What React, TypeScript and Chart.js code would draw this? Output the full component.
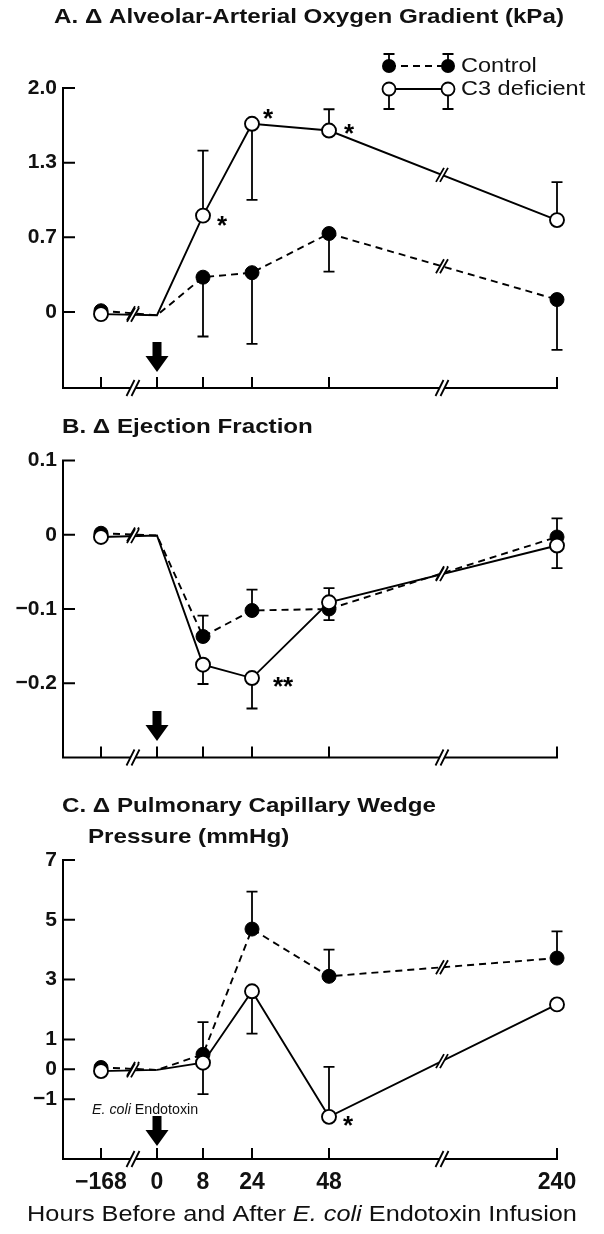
import React, { useEffect, useRef } from "react";
import { Chart, registerables } from "chart.js";

Chart.register(...registerables);

// ---------- data ----------
const HOURS = [-168, 0, 8, 24, 48, 240];
const HOUR_LABELS = ["\u2212168", "0", "8", "24", "48", "240"];

// Panel A: Δ Alveolar-arterial oxygen gradient (kPa)
const A_CONTROL = [0.01, -0.03, 0.31, 0.35, 0.7, 0.11];
const A_CONTROL_ERR = [null, null, -0.22, -0.285, 0.36, -0.34];
const A_C3 = [-0.02, -0.03, 0.86, 1.68, 1.62, 0.82];
const A_C3_ERR = [null, null, 1.44, 1.0, 1.81, 1.16];
const A_TICKS = [0, 2 / 3, 4 / 3, 2];
const A_TICK_LABELS = ["0", "0.7", "1.3", "2.0"];

// Panel B: Δ Ejection fraction
const B_CONTROL = [0.002, -0.001, -0.137, -0.102, -0.1, -0.003];
const B_CONTROL_ERR = [null, null, -0.109, -0.074, -0.115, 0.022];
const B_C3 = [-0.003, -0.001, -0.175, -0.193, -0.091, -0.0145];
const B_C3_ERR = [null, null, -0.201, -0.234, -0.072, -0.045];
const B_TICKS = [0.1, 0, -0.1, -0.2];
const B_TICK_LABELS = ["0.1", "0", "\u22120.1", "\u22120.2"];

// Panel C: Δ Pulmonary capillary wedge pressure (mmHg)
const C_CONTROL = [0.06, -0.02, 0.5, 4.69, 3.11, 3.72];
const C_CONTROL_ERR = [null, null, 1.58, 5.94, 4.0, 4.61];
const C_C3 = [-0.06, -0.02, 0.22, 2.61, -1.59, 2.17];
const C_C3_ERR = [null, null, -0.83, 1.19, 0.08, null];
const C_TICKS = [7, 5, 3, 1, 0, -1];
const C_TICK_LABELS = ["7", "5", "3", "1", "0", "\u22121"];

// ---------- layout (axis geometry, not data) ----------
const AXIS_LEFT = 63;
const AXIS_RIGHT = 558;
const HOUR_SLOT = [38, 94, 140, 189, 266, 494]; // broken time axis: offset of each hour tick from the y-axis
const X_MAX = 495;
const BREAKS = [70, 379];
const FONT = "'Liberation Sans', Arial, Helvetica, sans-serif";

type Star = { series: "c3" | "control"; index: number; text: string; dx: number; dy: number };
type Panel = {
  top: number;
  height: number;
  areaTop: number;
  areaBottom: number;
  yMin: number;
  yMax: number;
  yTicks: number[];
  yLabels: string[];
  control: number[];
  controlErr: (number | null)[];
  c3: number[];
  c3Err: (number | null)[];
  stars: Star[];
  arrowTip: number;
  showX: boolean;
  kind: "A" | "B" | "C";
};

const PANELS: Panel[] = [
  {
    kind: "A", top: 0, height: 400, areaTop: 88, areaBottom: 388,
    yMin: -0.68, yMax: 2, yTicks: A_TICKS, yLabels: A_TICK_LABELS,
    control: A_CONTROL, controlErr: A_CONTROL_ERR, c3: A_C3, c3Err: A_C3_ERR,
    stars: [
      { series: "c3", index: 2, text: "*", dx: 19, dy: 5 },
      { series: "c3", index: 3, text: "*", dx: 16, dy: -10 },
      { series: "c3", index: 4, text: "*", dx: 20, dy: -2 },
    ],
    arrowTip: 372, showX: false,
  },
  {
    kind: "B", top: 400, height: 380, areaTop: 460.5, areaBottom: 757.5,
    yMin: -0.3, yMax: 0.1, yTicks: B_TICKS, yLabels: B_TICK_LABELS,
    control: B_CONTROL, controlErr: B_CONTROL_ERR, c3: B_C3, c3Err: B_C3_ERR,
    stars: [{ series: "c3", index: 3, text: "**", dx: 31, dy: 4 }],
    arrowTip: 741, showX: false,
  },
  {
    kind: "C", top: 780, height: 454, areaTop: 860, areaBottom: 1159,
    yMin: -3, yMax: 7, yTicks: C_TICKS, yLabels: C_TICK_LABELS,
    control: C_CONTROL, controlErr: C_CONTROL_ERR, c3: C_C3, c3Err: C_C3_ERR,
    stars: [{ series: "c3", index: 4, text: "*", dx: 19, dy: 4 }],
    arrowTip: 1146, showX: true,
  },
];

function drawBreak(ctx: CanvasRenderingContext2D, x: number, y: number, h = 8, w = 4, gap = 5) {
  ctx.save();
  ctx.fillStyle = "#fff";
  ctx.beginPath();
  ctx.moveTo(x - gap / 2 - w, y + h);
  ctx.lineTo(x - gap / 2 + w, y - h);
  ctx.lineTo(x + gap / 2 + w, y - h);
  ctx.lineTo(x + gap / 2 - w, y + h);
  ctx.closePath();
  ctx.fill();
  ctx.strokeStyle = "#000";
  ctx.lineWidth = 1.8;
  ctx.setLineDash([]);
  ctx.beginPath();
  ctx.moveTo(x - gap / 2 - w, y + h);
  ctx.lineTo(x - gap / 2 + w, y - h);
  ctx.moveTo(x + gap / 2 - w, y + h);
  ctx.lineTo(x + gap / 2 + w, y - h);
  ctx.stroke();
  ctx.restore();
}

function drawArrow(ctx: CanvasRenderingContext2D, x: number, tip: number) {
  const len = 30, headH = 16, headW = 23, shaft = 9;
  ctx.save();
  ctx.fillStyle = "#000";
  ctx.beginPath();
  ctx.moveTo(x - shaft / 2, tip - len);
  ctx.lineTo(x + shaft / 2, tip - len);
  ctx.lineTo(x + shaft / 2, tip - headH);
  ctx.lineTo(x + headW / 2, tip - headH);
  ctx.lineTo(x, tip);
  ctx.lineTo(x - headW / 2, tip - headH);
  ctx.lineTo(x - shaft / 2, tip - headH);
  ctx.closePath();
  ctx.fill();
  ctx.restore();
}

// draws text runs (mixed italic) with an optional horizontal stretch
function drawRuns(
  ctx: CanvasRenderingContext2D,
  parts: { t: string; italic?: boolean; bold?: boolean }[],
  size: number,
  x: number,
  y: number,
  align: "left" | "center",
  sx = 1
) {
  const fonts = parts.map((p) => `${p.italic ? "italic " : ""}${p.bold ? "bold " : ""}${size}px ${FONT}`);
  let total = 0;
  const widths = parts.map((p, i) => {
    ctx.font = fonts[i];
    const w = ctx.measureText(p.t).width;
    total += w;
    return w;
  });
  let cx = align === "center" ? -total / 2 : 0;
  ctx.save();
  ctx.translate(x, y);
  ctx.scale(sx, 1);
  ctx.textAlign = "left";
  ctx.textBaseline = "middle";
  ctx.fillStyle = "#111";
  parts.forEach((p, i) => {
    ctx.font = fonts[i];
    ctx.fillText(p.t, cx, 0);
    cx += widths[i];
  });
  ctx.restore();
}

function makePlugin(p: Panel) {
  const off = p.top;
  return {
    id: "panelDecor" + p.kind,
    beforeDatasetsDraw(chart: any) {
      const ctx: CanvasRenderingContext2D = chart.ctx;
      const xs = chart.scales.x;
      const ys = chart.scales.y;
      const area = chart.chartArea;
      ctx.save();
      ctx.strokeStyle = "#000";
      ctx.lineWidth = 2;
      ctx.setLineDash([]);
      ctx.beginPath();
      ctx.moveTo(area.left, area.top - 1);
      ctx.lineTo(area.left, area.bottom + 1);
      p.yTicks.forEach((v) => {
        const y = ys.getPixelForValue(v);
        ctx.moveTo(area.left, y);
        ctx.lineTo(area.left + 12, y);
      });
      ctx.moveTo(area.left - 1, area.bottom);
      ctx.lineTo(area.right, area.bottom);
      HOUR_SLOT.forEach((s) => {
        const x = xs.getPixelForValue(s);
        ctx.moveTo(x, area.bottom);
        ctx.lineTo(x, area.bottom - 11);
      });
      ctx.stroke();
      BREAKS.forEach((b) => drawBreak(ctx, xs.getPixelForValue(b), area.bottom));

      // error bars
      ctx.lineWidth = 1.8;
      const series: [number[], (number | null)[]][] = [
        [p.control, p.controlErr],
        [p.c3, p.c3Err],
      ];
      series.forEach(([vals, errs]) => {
        errs.forEach((e, i) => {
          if (e === null || e === undefined) return;
          const x = xs.getPixelForValue(HOUR_SLOT[i]);
          const y0 = ys.getPixelForValue(vals[i]);
          const y1 = ys.getPixelForValue(e);
          ctx.beginPath();
          ctx.moveTo(x, y0);
          ctx.lineTo(x, y1);
          ctx.moveTo(x - 5.5, y1);
          ctx.lineTo(x + 5.5, y1);
          ctx.stroke();
        });
      });
      ctx.restore();
    },
    afterDatasetsDraw(chart: any) {
      const ctx: CanvasRenderingContext2D = chart.ctx;
      const xs = chart.scales.x;
      const ys = chart.scales.y;
      ctx.save();
      // breaks on the data lines
      [p.control, p.c3].forEach((vals) => {
        [
          [0, 1, BREAKS[0]],
          [4, 5, BREAKS[1]],
        ].forEach(([i0, i1, b]) => {
          const x0 = xs.getPixelForValue(HOUR_SLOT[i0]);
          const x1 = xs.getPixelForValue(HOUR_SLOT[i1]);
          const y0 = ys.getPixelForValue(vals[i0]);
          const y1 = ys.getPixelForValue(vals[i1]);
          const bx = xs.getPixelForValue(b);
          const by = y0 + ((bx - x0) / (x1 - x0)) * (y1 - y0);
          drawBreak(ctx, bx, by, 7, 4, 4);
        });
      });

      // asterisks
      ctx.fillStyle = "#000";
      ctx.font = `bold 26px ${FONT}`;
      ctx.textAlign = "center";
      ctx.textBaseline = "alphabetic";
      p.stars.forEach((s) => {
        const vals = s.series === "c3" ? p.c3 : p.control;
        const x = xs.getPixelForValue(HOUR_SLOT[s.index]) + s.dx;
        const y = ys.getPixelForValue(vals[s.index]) + s.dy;
        ctx.fillText(s.text, x, y + 13);
      });

      // endotoxin arrow at hour 0
      drawArrow(ctx, xs.getPixelForValue(HOUR_SLOT[1]), p.arrowTip - off);

      const TS = 21, TX = 1.15;
      if (p.kind === "A") {
        drawRuns(ctx, [{ t: "A. \u0394 Alveolar-Arterial Oxygen Gradient (kPa)", bold: true }], TS, 309, 17 - off, "center", TX);
        // legend
        const lx0 = 389, lx1 = 448, r1 = 66 - off, r2 = 89 - off;
        ctx.strokeStyle = "#000";
        ctx.lineWidth = 1.8;
        ctx.beginPath();
        ctx.setLineDash([7, 5]);
        ctx.moveTo(lx0, r1);
        ctx.lineTo(lx1, r1);
        ctx.stroke();
        ctx.setLineDash([]);
        ctx.beginPath();
        ctx.moveTo(lx0, r2);
        ctx.lineTo(lx1, r2);
        [lx0, lx1].forEach((x) => {
          ctx.moveTo(x, r1);
          ctx.lineTo(x, 54 - off);
          ctx.moveTo(x - 5.5, 54 - off);
          ctx.lineTo(x + 5.5, 54 - off);
          ctx.moveTo(x, r2);
          ctx.lineTo(x, 109 - off);
          ctx.moveTo(x - 5.5, 109 - off);
          ctx.lineTo(x + 5.5, 109 - off);
        });
        ctx.stroke();
        [lx0, lx1].forEach((x) => {
          ctx.beginPath();
          ctx.arc(x, r1, 7, 0, Math.PI * 2);
          ctx.fillStyle = "#000";
          ctx.fill();
          ctx.beginPath();
          ctx.arc(x, r2, 6.5, 0, Math.PI * 2);
          ctx.fillStyle = "#fff";
          ctx.fill();
          ctx.stroke();
        });
        drawRuns(ctx, [{ t: "Control" }], 21, 461, r1, "left", 1.12);
        drawRuns(ctx, [{ t: "C3 deficient" }], 21, 461, r2, "left", 1.12);
      } else if (p.kind === "B") {
        drawRuns(ctx, [{ t: "B. \u0394 Ejection Fraction", bold: true }], TS, 62, 427 - off, "left", TX);
      } else {
        drawRuns(ctx, [{ t: "C. \u0394 Pulmonary Capillary Wedge", bold: true }], TS, 62, 806 - off, "left", TX);
        drawRuns(ctx, [{ t: "Pressure (mmHg)", bold: true }], TS, 88, 837 - off, "left", TX);
        drawRuns(ctx, [{ t: "E. coli", italic: true }, { t: " Endotoxin" }], 15, 92, 1110 - off, "left", 0.95);
        drawRuns(
          ctx,
          [{ t: "Hours Before and After " }, { t: "E. coli", italic: true }, { t: " Endotoxin Infusion" }],
          22,
          302,
          1215 - off,
          "center",
          1.15
        );
      }
      ctx.restore();
    },
  };
}

function makeConfig(p: Panel): any {
  const pts = (vals: number[]) => vals.map((v, i) => ({ x: HOUR_SLOT[i], y: v }));
  const radius = HOURS.map((_, i) => (i === 1 ? 0 : 7));
  return {
    type: "line",
    data: {
      datasets: [
        {
          label: "C3 deficient",
          data: pts(p.c3),
          borderColor: "#000",
          borderWidth: 1.9,
          pointRadius: radius,
          pointBackgroundColor: "#fff",
          pointBorderColor: "#000",
          pointBorderWidth: 1.9,
          tension: 0,
          fill: false,
          clip: false,
        },
        {
          label: "Control",
          data: pts(p.control),
          borderColor: "#000",
          borderWidth: 1.9,
          borderDash: [7, 5],
          pointRadius: radius,
          pointBackgroundColor: "#000",
          pointBorderColor: "#000",
          pointBorderWidth: 1,
          tension: 0,
          fill: false,
          clip: false,
        },
      ],
    },
    options: {
      animation: false,
      responsive: false,
      maintainAspectRatio: false,
      events: [],
      layout: {
        padding: {
          left: 0,
          right: 604 - AXIS_RIGHT,
          top: p.areaTop - p.top,
          bottom: p.showX ? 0 : p.top + p.height - p.areaBottom,
        },
      },
      plugins: { legend: { display: false }, tooltip: { enabled: false }, title: { display: false } },
      scales: {
        x: {
          type: "linear",
          min: 0,
          max: X_MAX,
          grid: { display: false, drawTicks: false },
          border: { display: false },
          ticks: {
            display: p.showX,
            autoSkip: false,
            maxRotation: 0,
            minRotation: 0,
            padding: 10,
            color: "#111",
            font: { family: FONT, size: 23, weight: "bold" },
            callback: (v: number) => {
              const i = HOUR_SLOT.indexOf(v);
              return i >= 0 ? HOUR_LABELS[i] : "";
            },
          },
          afterBuildTicks: (s: any) => {
            s.ticks = HOUR_SLOT.map((v) => ({ value: v }));
          },
          afterFit: (s: any) => {
            s.height = p.showX ? p.top + p.height - p.areaBottom : 0;
            s.paddingLeft = 0;
            s.paddingRight = 0;
          },
        },
        y: {
          type: "linear",
          min: p.yMin,
          max: p.yMax,
          grid: { display: false, drawTicks: false },
          border: { display: false },
          ticks: {
            autoSkip: false,
            padding: 6,
            color: "#111",
            font: { family: FONT, size: 21, weight: "bold" },
            callback: (v: number) => {
              const i = p.yTicks.findIndex((t) => Math.abs(t - v) < 1e-9);
              return i >= 0 ? p.yLabels[i] : "";
            },
          },
          afterBuildTicks: (s: any) => {
            s.ticks = p.yTicks.map((v) => ({ value: v }));
          },
          afterFit: (s: any) => {
            s.width = AXIS_LEFT;
            s.paddingTop = 0;
            s.paddingBottom = 0;
          },
        },
      },
    },
    plugins: [makePlugin(p)],
  };
}

function PanelChart({ p }: { p: Panel }) {
  const ref = useRef<HTMLCanvasElement | null>(null);
  useEffect(() => {
    if (!ref.current) return;
    const chart = new Chart(ref.current, makeConfig(p));
    return () => chart.destroy();
  }, [p]);
  return (
    <canvas
      ref={ref}
      width={604}
      height={p.height}
      style={{ position: "absolute", left: 0, top: p.top, width: 604, height: p.height, display: "block" }}
    />
  );
}

export default function App() {
  return (
    <div style={{ position: "absolute", left: 0, top: 0, width: 604, height: 1234, background: "#fff", overflow: "hidden" }}>
      {PANELS.map((p) => (
        <PanelChart key={p.kind} p={p} />
      ))}
    </div>
  );
}
